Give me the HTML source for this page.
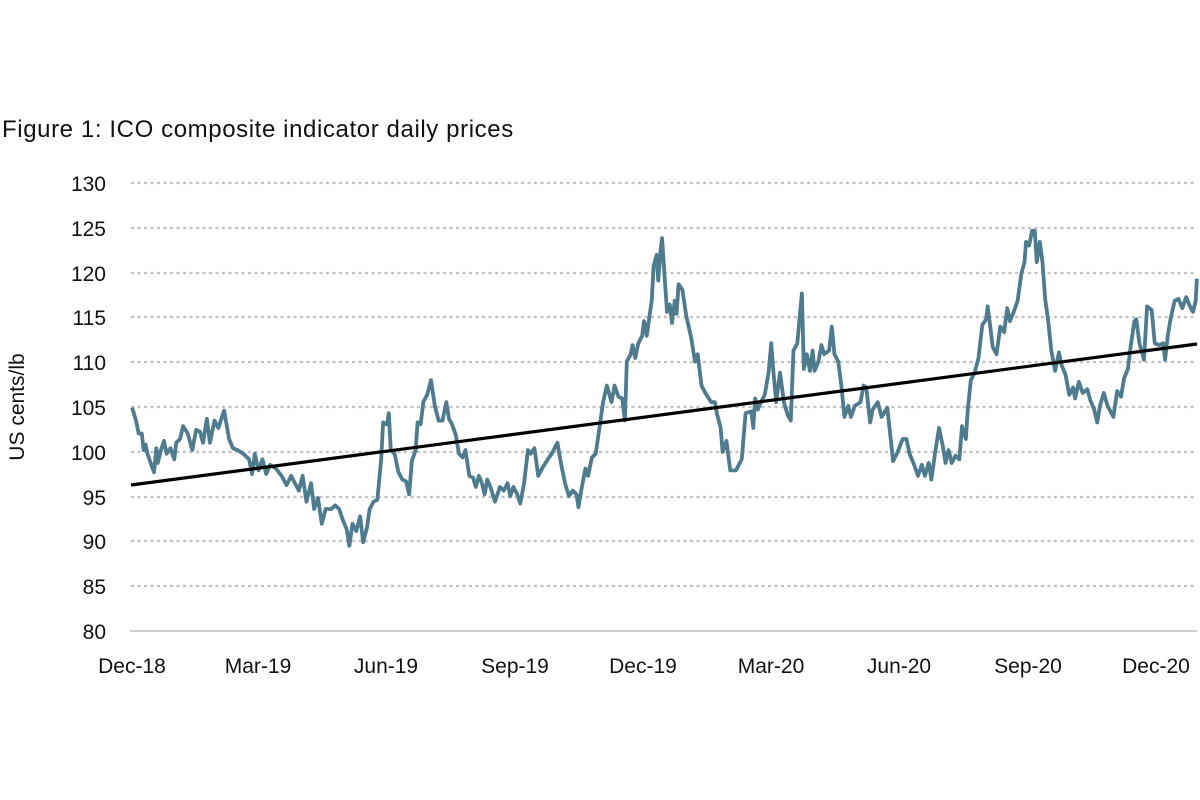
<!DOCTYPE html>
<html><head><meta charset="utf-8"><style>
html,body{margin:0;padding:0;background:#fff;width:1200px;height:800px;overflow:hidden}
svg{display:block}
text{font-family:"Liberation Sans",sans-serif;fill:#111}
</style></head><body>
<svg width="1200" height="800" viewBox="0 0 1200 800">
<text x="2" y="137" font-size="24" letter-spacing="0.6">Figure 1: ICO composite indicator daily prices</text>
<g stroke="#c4c4c4" stroke-width="2.5" stroke-dasharray="1 5.5" stroke-linecap="round">
<line x1="132" y1="183" x2="1197" y2="183"/>
<line x1="132" y1="228" x2="1197" y2="228"/>
<line x1="132" y1="273" x2="1197" y2="273"/>
<line x1="132" y1="317" x2="1197" y2="317"/>
<line x1="132" y1="362" x2="1197" y2="362"/>
<line x1="132" y1="407" x2="1197" y2="407"/>
<line x1="132" y1="452" x2="1197" y2="452"/>
<line x1="132" y1="497" x2="1197" y2="497"/>
<line x1="132" y1="541" x2="1197" y2="541"/>
<line x1="132" y1="586" x2="1197" y2="586"/>
</g>
<line x1="130" y1="631" x2="1197" y2="631" stroke="#cfcfcf" stroke-width="2"/>
<g font-size="21" text-anchor="end">
<text x="106" y="191">130</text><text x="106" y="236">125</text><text x="106" y="281">120</text>
<text x="106" y="325">115</text><text x="106" y="370">110</text><text x="106" y="415">105</text>
<text x="106" y="460">100</text><text x="106" y="505">95</text><text x="106" y="549">90</text>
<text x="106" y="594">85</text><text x="106" y="639">80</text>
</g>
<g font-size="21" text-anchor="middle">
<text x="132" y="673">Dec-18</text><text x="258" y="673">Mar-19</text><text x="386" y="673">Jun-19</text>
<text x="515" y="673">Sep-19</text><text x="643" y="673">Dec-19</text><text x="771" y="673">Mar-20</text>
<text x="899" y="673">Jun-20</text><text x="1028" y="673">Sep-20</text><text x="1156" y="673">Dec-20</text>
</g>
<text transform="translate(24,407) rotate(-90)" font-size="21" text-anchor="middle">US cents/lb</text>
<g fill="none" stroke="#4f7b8f" stroke-width="3.8" stroke-linejoin="round">
<polyline vector-effect="non-scaling-stroke" transform="translate(0,100) scale(0.3831,0.3685)" points="345,835 355,870 362,905 370,905 375,950 380,935 385,960 395,990 402,1010 408,945 412,985 420,950 428,925 435,960 445,945 455,975 460,930 470,920 478,885 490,905 502,950 512,895 522,900 530,930 540,865 548,930 560,870 570,890 585,843 598,920 608,945 620,950 635,960 650,975 658,1015 665,960 675,1005 685,975 695,1015 705,990 720,1000 735,1020 748,1045 760,1020 770,1040 780,1060 790,1020 800,1090 812,1040 820,1110 830,1080 840,1150 850,1110 865,1110 875,1100 885,1110 895,1140 905,1165 912,1210 920,1150 930,1170 940,1130 948,1200 958,1160 965,1110 975,1090 985,1085 995,975 1000,875 1010,880 1015,850 1020,950 1030,960 1040,1010 1050,1030 1060,1035 1068,1070 1075,980 1085,950 1090,875 1098,880 1105,820 1115,800 1125,760 1135,830 1145,870 1155,870 1165,820 1172,865 1180,880 1190,910 1198,960 1208,970 1215,950 1225,1020 1235,1025 1242,1050 1250,1020 1258,1040 1265,1070 1272,1030 1280,1050 1292,1090 1305,1050 1315,1060 1325,1040 1332,1075 1340,1050 1350,1070 1358,1095 1368,1040 1378,950 1385,960 1395,945 1405,1020 1415,1000 1430,975 1440,960 1455,930 1465,990 1475,1040 1485,1075 1495,1060 1505,1070 1510,1105 1518,1055 1528,1000 1535,1020 1545,970 1555,960 1566,880"/>
<polyline vector-effect="non-scaling-stroke" transform="translate(600,100) scale(0.3831,0.3685)" points="0,880 8,820 18,775 30,820 38,775 48,805 58,810 65,870 70,710 80,690 85,665 92,700 100,660 110,640 115,600 122,640 130,580 135,545 140,450 148,420 152,490 158,410 162,375 168,470 175,575 182,555 188,605 195,545 200,580 205,500 215,515 225,585 238,645 248,710 255,690 265,775 275,795 290,820 300,820 305,850 315,890 320,955 330,925 340,1005 355,1005 370,975 380,850 395,845 400,890 405,810 412,840 420,820 430,800 440,740 447,660 452,730 460,820 470,740 480,820 490,855 498,870 505,680 515,660 527,525 532,730 540,690 548,735 555,680 560,735 570,710 578,665 585,690 598,680 605,615 612,690 622,710 630,775 638,860 648,830 655,860 665,830 680,820 688,775 695,780 705,875 712,840 725,820 735,860 750,835 765,980 775,960 790,920 800,920 808,960 820,990 830,1020 840,990 848,1020 858,985 865,1030 875,955 885,890 895,940 902,985 910,950 918,985 928,965 938,975 945,885 955,920 960,840 968,760 978,740 988,700 998,610 1008,595 1012,560 1018,610 1025,670 1035,690 1045,615 1055,630 1063,565 1070,600 1080,575 1090,545 1100,470 1108,440 1112,385 1120,395 1128,355 1135,355 1140,440 1148,385 1155,440 1162,540 1170,600 1178,680 1188,735 1198,685 1205,720 1215,745 1225,800 1235,780 1240,810 1250,765 1260,795 1272,785 1280,815 1290,840 1298,875 1305,830 1315,795 1325,830 1340,860 1350,790 1360,805 1368,755 1378,730 1385,670 1395,600 1400,595 1408,660 1420,705 1428,560 1440,570 1448,660 1460,665 1470,660 1475,705 1482,640 1490,590 1500,545 1510,540 1520,565 1530,535 1540,560 1548,575 1555,545 1558,485"/>
</g>
<line x1="131" y1="485" x2="1197" y2="344" stroke="#000" stroke-width="3.2"/>
</svg>
</body></html>
